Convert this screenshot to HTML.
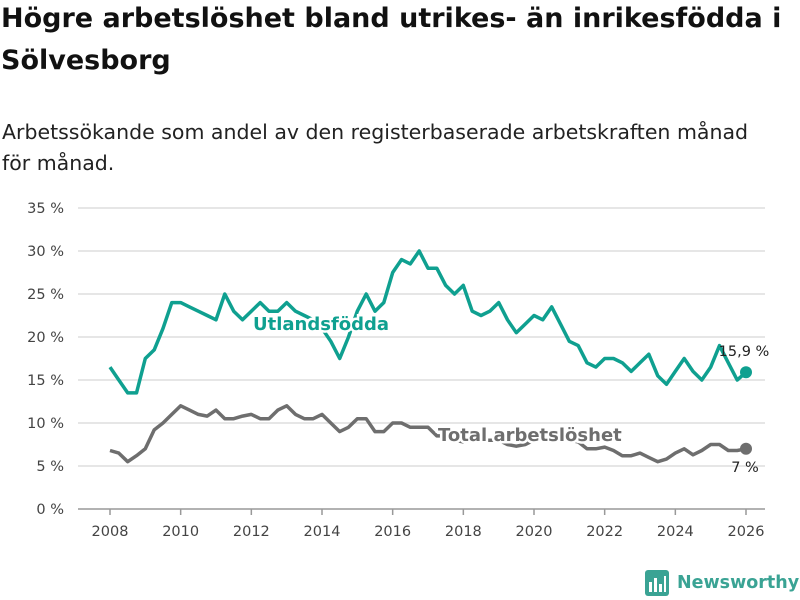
<!DOCTYPE html>
<html><head><meta charset="utf-8"><style>
body{margin:0;width:800px;height:600px;background:#fff;font-family:"DejaVu Sans",sans-serif;overflow:hidden;position:relative}
h1{position:absolute;left:1px;top:-2px;margin:0;font-size:27px;line-height:42px;font-weight:bold;color:#111;width:798px}
.sub{position:absolute;left:2px;top:117px;font-size:20.5px;line-height:31px;color:#222;width:770px}
</style></head><body>
<h1>Högre arbetslöshet bland utrikes- än inrikesfödda i Sölvesborg</h1>
<div class="sub">Arbetssökande som andel av den registerbaserade arbetskraften månad för månad.</div>
<svg id="chart" width="800" height="600" style="position:absolute;left:0;top:0"></svg>
<div style="position:absolute;left:645px;top:570px;display:flex;align-items:center">
<svg width="24" height="26"><rect x="0" y="0" width="24" height="26" rx="3" fill="#3aa394"/><rect x="4" y="12" width="3" height="10" fill="#fff"/><rect x="9" y="8" width="3" height="14" fill="#fff"/><rect x="14" y="14" width="3" height="8" fill="#fff"/><rect x="19" y="6" width="2" height="16" fill="#fff"/></svg>
<span style="margin-left:8px;font-size:17.5px;font-weight:bold;color:#3aa394">Newsworthy</span></div>
<script>
const yTicks=[0,5,10,15,20,25,30,35];
const xTicks=[2008,2010,2012,2014,2016,2018,2020,2022,2024,2026];
const startYear=2008;
const utlandsfodda=[16.5,15,13.5,13.5, 17.5,18.5,21,24, 24,23.5,23,22.5, 22,25,23,22, 23,24,23,23, 24,23,22.5,22, 21,19.5,17.5,20, 23,25,23,24, 27.5,29,28.5,30, 28,28,26,25, 26,23,22.5,23, 24,22,20.5,21.5, 22.5,22,23.5,21.5, 19.5,19,17,16.5, 17.5,17.5,17,16, 17,18,15.5,14.5, 16,17.5,16,15, 16.5,19,17,15, 15.9];
const total=[6.8,6.5,5.5,6.2, 7,9.2,10,11, 12,11.5,11,10.8, 11.5,10.5,10.5,10.8, 11,10.5,10.5,11.5, 12,11,10.5,10.5, 11,10,9,9.5, 10.5,10.5,9,9, 10,10,9.5,9.5, 9.5,8.5,8.5,8, 7.8,8,8,8, 8,7.5,7.3,7.5, 8,8.5,8.5,8.5, 8,7.8,7,7, 7.2,6.8,6.2,6.2, 6.5,6,5.5,5.8, 6.5,7,6.3,6.8, 7.5,7.5,6.8,6.8, 7];
const NS="http://www.w3.org/2000/svg";
const svg=document.getElementById('chart');
const X=yr=>110+(yr-2008)*(636/18);
const Y=v=>509-v*(301/35);
function mk(t,a,p){const e=document.createElementNS(NS,t);for(const k in a)e.setAttribute(k,a[k]);(p||svg).appendChild(e);return e;}
yTicks.forEach(v=>{
 const l=mk('line',{x1:78,x2:765,y1:Y(v),y2:Y(v),stroke:v===0?'#999':'#ddd','stroke-width':1.5});
 
 
 const t=mk('text',{x:64,y:Y(v)+5,'text-anchor':'end','font-size':14.5,fill:'#444','font-family':'DejaVu Sans, sans-serif'});
 t.textContent=v+' %';
 
 
});
xTicks.forEach(y=>{
 const l=mk('line',{x1:X(y),x2:X(y),y1:509,y2:515,stroke:'#999','stroke-width':1.5});
 
 
 const t=mk('text',{x:X(y),y:536,'text-anchor':'middle','font-size':14.5,fill:'#444','font-family':'DejaVu Sans, sans-serif'});
 t.textContent=y;
 
 
});
function series(data,color,name){
 const pts=data.map((v,i)=>X(startYear+i*0.25).toFixed(1)+','+Y(v).toFixed(1)).join(' ');
 const p=mk('polyline',{points:pts,fill:'none',stroke:color,'stroke-width':3.5,'stroke-linejoin':'round'});
 
 
 const n=data.length-1;
 const c=mk('circle',{cx:X(startYear+n*0.25),cy:Y(data[n]),r:6,fill:color});
 
 
}
series(total,'#6e6e6e','total');
series(utlandsfodda,'#0fa090','utlandsfodda');
function label(txt,x,y,color,name,size,anchor,bold){
 const t=mk('text',{x:x,y:y,'font-size':size,fill:color,'font-weight':bold?'bold':'normal','text-anchor':anchor,stroke:'#fff','stroke-width':bold?5:0,'paint-order':'stroke','font-family':'DejaVu Sans, sans-serif'});
 t.textContent=txt;
 
 
}
label('Utlandsfödda',253,330,'#0fa090','utlandsfodda-label',18,'start',true);
label('Total arbetslöshet',438,441,'#6e6e6e','total-label',18,'start',true);
label('15,9 %',744,356,'#222','utlandsfodda-end-value',14.5,'middle',false);
label('7 %',745,472,'#222','total-end-value',14.5,'middle',false);
</script>
</body></html>
